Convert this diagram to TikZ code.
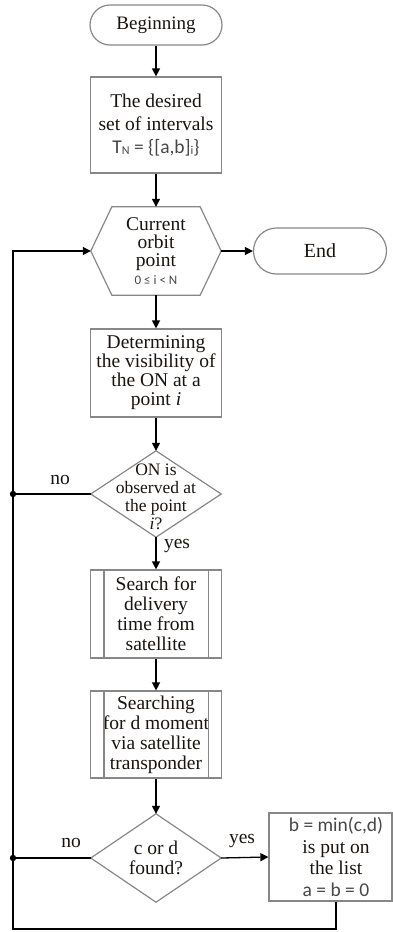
\documentclass[tikz,border=0pt]{standalone}
\usepackage{fontspec}
\setmainfont{Liberation Serif}
\newfontfamily\calib{Carlito}
\usetikzlibrary{arrows.meta,calc}
\definecolor{boxgray}{RGB}{135,135,135}
\definecolor{txtblack}{RGB}{25,20,15}
\definecolor{sansgray}{RGB}{70,70,70}
\begin{document}
\begin{tikzpicture}[x=1pt,y=-1pt,
  shp/.style={draw=boxgray,line width=1.2pt},
  box/.style={shp,minimum width=131pt,minimum height=88pt,align=center,inner sep=0pt,text=txtblack},
  bare/.style={minimum width=130pt,minimum height=88pt,align=center,inner sep=0pt,text=txtblack},
  pill/.style={box,minimum height=#1,rounded corners=#1/2},
  arr/.style={-{Triangle[length=8pt,width=8pt]},line width=1.3pt,black},
  ln/.style={line width=1.3pt,black},
  lbl/.style={text=txtblack,font=\fontsize{19.5}{20}\selectfont,inner sep=0pt}
]
\useasboundingbox (0,0) rectangle (393,932);
\node[pill=40pt,minimum width=132pt,font=\fontsize{19}{20}\selectfont] (begin) at (156,25) {Beginning};
\node[box,minimum height=96pt,font=\fontsize{19.5}{23}\selectfont] (want) at (156,125)
  {The desired\\set of intervals\\{\calib\color{sansgray}T\raisebox{-1pt}{\fontsize{12}{12}\selectfont N} = \{[a,b]\raisebox{-1pt}{\fontsize{12}{12}\selectfont i}\}}};
\node[bare,font=\fontsize{19.5}{18}\selectfont] (hex) at (156,251)
  {Current\\orbit\\point\\{\calib\color{sansgray}\fontsize{13}{14}\selectfont 0 ≤ i < N}};
\draw[shp] (hex.west) -- ($(hex.north west)+(21,0)$) -- ($(hex.north east)+(-21,0)$) -- (hex.east)
  -- ($(hex.south east)+(-21,0)$) -- ($(hex.south west)+(21,0)$) -- cycle;
\node[pill=46pt,minimum width=133pt,font=\fontsize{20}{20}\selectfont] (end) at (320,251) {End};
\node[box,font=\fontsize{19.5}{19}\selectfont] (det) at (156,373)
  {Determining\\the visibility of\\the ON at a\\point \textit{i}};
\node[bare,minimum height=86pt] (d1) at (156,494) {};
\node[text=txtblack,align=center,inner sep=0pt,font=\fontsize{17.5}{18}\selectfont] (d1t) at (156,497)
  {ON is\\observed at\\the point\\\textit{i}?};
\draw[shp] (d1.west) -- (d1.north) -- (d1.east) -- (d1.south) -- cycle;
\node[box,font=\fontsize{19.5}{20}\selectfont] (s1) at (156,614)
  {Search for\\delivery\\time from\\satellite};
\draw[shp] ($(s1.north west)+(14,0)$) -- ($(s1.south west)+(14,0)$);
\draw[shp] ($(s1.north east)+(-14,0)$) -- ($(s1.south east)+(-14,0)$);
\node[box,minimum height=87pt,font=\fontsize{19.5}{20}\selectfont] (s2) at (156,734.5)
  {Searching\\for d moment\\via satellite\\transponder};
\draw[shp] ($(s2.north west)+(14,0)$) -- ($(s2.south west)+(14,0)$);
\draw[shp] ($(s2.north east)+(-14,0)$) -- ($(s2.south east)+(-14,0)$);
\node[bare,font=\fontsize{19.5}{20}\selectfont] (d2) at (156,858) {c or d\\found?};
\draw[shp] (d2.west) -- (d2.north) -- (d2.east) -- (d2.south) -- cycle;
\node[box,minimum width=123pt] (res) at (330.5,857) {};
\node[text=txtblack,align=center,inner sep=0pt,font=\fontsize{19.5}{21.5}\selectfont] (rest) at (336,857)
  {{\calib\color{sansgray}b = min(c,d)}\\is put on\\the list\\{\calib\color{sansgray}a = b = 0}};
% connectors
\draw[arr] (begin.south) -- (want.north);
\draw[arr] (want.south) -- (hex.north);
\draw[arr] (hex.east) -- (end.west);
\draw[arr] (hex.south) -- (det.north);
\draw[arr] (det.south) -- (d1.north);
\draw[arr] (d1.south) -- (s1.north);
\draw[arr] (s1.south) -- (s2.north);
\draw[arr] (s2.south) -- (d2.north);
\draw[arr] (d2.east) -- (res.west);
\coordinate (rb) at (res.south -| rest);
\coordinate (ll) at (13,929);
\draw[arr] (rb) |- (ll) |- (hex.west);
\coordinate (j1) at (d1.west -| ll);
\coordinate (j2) at (d2.west -| ll);
\draw[ln] (d1.west) -- (j1);
\draw[ln] (d2.west) -- (j2);
\fill (j1) circle (3.2pt);
\fill (j2) circle (3.2pt);
% labels
\node[lbl] (no1) at (60,480) {no};
\node[lbl] (yes1) at (177,546) {yes};
\node[lbl] (no2) at (71,843) {no};
\node[lbl] (yes2) at (242,841) {yes};
\end{tikzpicture}
\end{document}
